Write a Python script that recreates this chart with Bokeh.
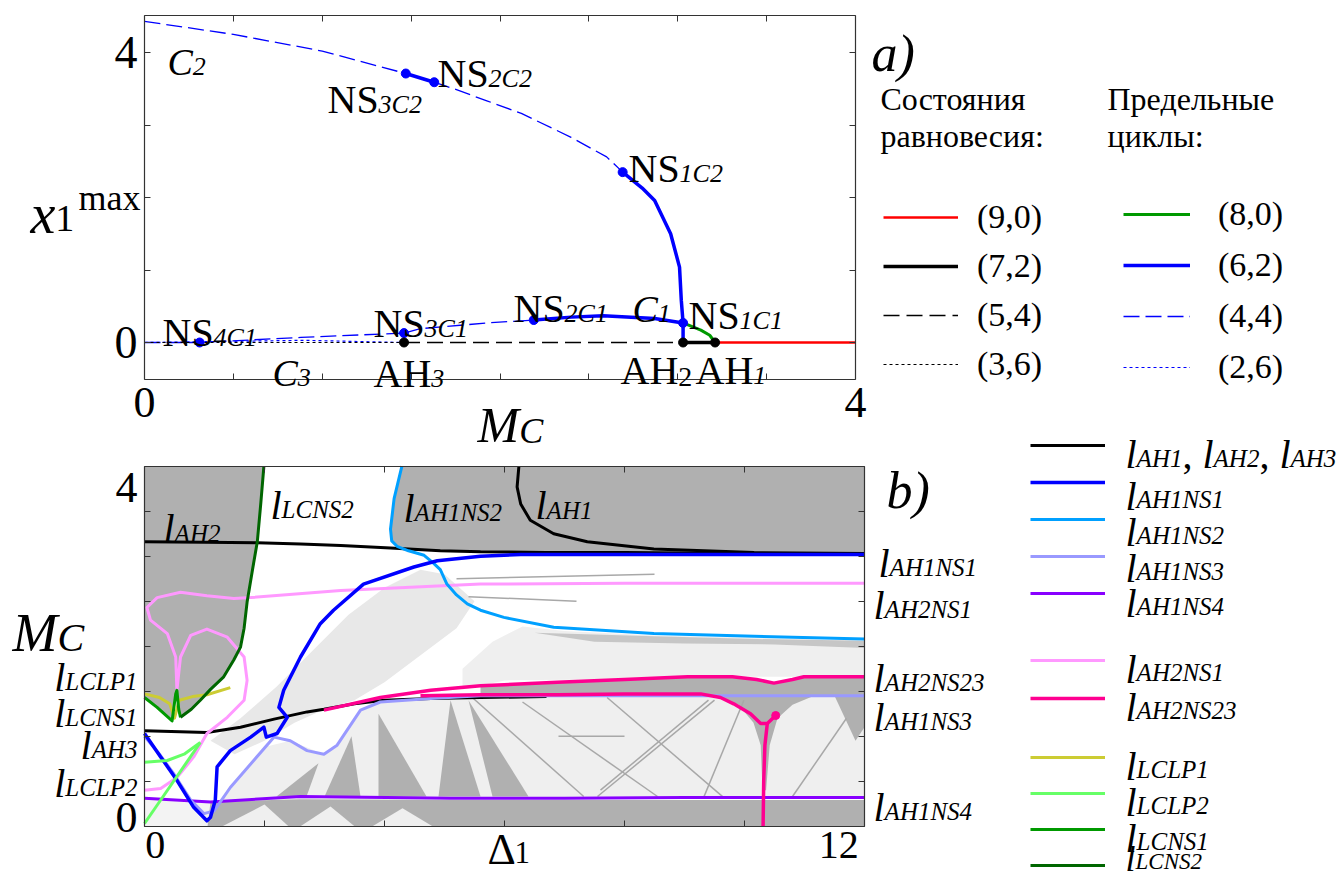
from bokeh.plotting import figure
from bokeh.models import Label, Legend, LegendItem, LinearAxis, FixedTicker, Range1d
from bokeh.embed import file_html
from bokeh.resources import INLINE

FONT = "Liberation Serif"

# ================= Panel a) data : x = M_C, y = x1max =================
a_xticks = [0.0, 0.5, 1.0, 1.5, 2.0, 2.5, 3.0, 3.5, 4.0]
a_xlabels = {0.0: "0", 4.0: "4"}
a_yticks = [0.0, 1.0, 2.0, 3.0, 4.0]
a_ylabels = {0.0: "0", 4.0: "4"}

c2_dash1_x = [0.0, 0.5, 1.0, 1.47]
c2_dash1_y = [4.43, 4.25, 4.02, 3.71]
c2_solid1_x = [1.47, 1.63]
c2_solid1_y = [3.71, 3.59]
c2_dash2_x = [1.63, 1.74, 1.93, 2.12, 2.40, 2.60, 2.69]
c2_dash2_y = [3.59, 3.50, 3.33, 3.16, 2.83, 2.56, 2.35]
c2_solid2_x = [2.69, 2.80, 2.87, 2.96, 3.01, 3.02, 3.03, 3.03]
c2_solid2_y = [2.35, 2.13, 1.96, 1.50, 1.04, 0.58, 0.27, 0.0]

c1_dash1_x = [0.0, 0.31, 0.88, 1.46]
c1_dash1_y = [0.0, 0.0, 0.07, 0.13]
c1_dash2_x = [1.46, 1.55, 1.93, 2.19]
c1_dash2_y = [0.13, 0.19, 0.27, 0.31]
c1_solid_x = [2.19, 2.40, 2.58, 2.87, 3.03]
c1_solid_y = [0.31, 0.35, 0.37, 0.33, 0.27]
c3_x = [0.0, 0.31, 0.90, 1.46]
c3_y = [0.0, 0.01, 0.03, 0.0]
lc80_x = [3.03, 3.13, 3.18, 3.21]
lc80_y = [0.27, 0.17, 0.10, 0.0]

eq36_x = [0.0, 1.46]
eq54_x = [1.46, 3.03]
eq72_x = [3.03, 3.21]
eq90_x = [3.21, 4.0]
eq_y = [0.0, 0.0]

ns_x = [0.31, 1.46, 2.19, 3.03, 2.69, 1.63, 1.47]
ns_y = [0.0, 0.13, 0.31, 0.27, 2.35, 3.59, 3.71]
ah_x = [1.46, 3.03, 3.21]
ah_y = [0.0, 0.0, 0.0]

# ================= Panel b) data : x = Delta1, y = M_C =================
b_xticks = [0, 2, 4, 6, 8, 10, 12]
b_xlabel_pos = [0.18, 11.57]
b_xlabels = {0.18: "0", 11.57: "12"}
b_yticks = [0.0, 0.5, 1.0, 1.5, 2.0, 2.5, 3.0, 3.5, 4.0]
b_ylabel_pos = [0.1, 3.76]
b_ylabels = {0.1: "0", 3.76: "4"}

ah2_x = [0.0, 1.0, 1.88, 2.6, 3.27, 4.1, 4.93, 5.6, 6.7, 8.0, 10.0, 12.0]
ah2_y = [3.16, 3.155, 3.15, 3.135, 3.12, 3.09, 3.06, 3.05, 3.04, 3.04, 3.03, 3.03]
ah1_x = [6.24, 6.21, 6.27, 6.43, 6.82, 7.38, 8.49, 10.16, 12.0]
ah1_y = [4.0, 3.77, 3.58, 3.40, 3.25, 3.16, 3.08, 3.04, 3.03]
ah3_x = [0.0, 1.04, 1.6, 2.16, 2.71, 2.99, 3.5, 4.0, 4.77, 5.6, 6.7]
ah3_y = [1.06, 1.04, 1.10, 1.19, 1.27, 1.30, 1.36, 1.40, 1.42, 1.43, 1.44]

ns1_x = [0.0, 0.27, 0.54, 0.82, 1.04, 1.10, 1.18, 1.21, 1.43, 1.77, 1.99, 2.03, 2.21, 2.38,
         2.24, 2.32, 2.60, 2.93, 3.15, 3.65, 4.49, 4.88, 5.6, 6.27, 8.0, 10.0, 12.0]
ns1_y = [1.03, 0.77, 0.51, 0.21, 0.06, 0.10, 0.29, 0.66, 0.84, 0.99, 1.10, 0.99, 1.03, 1.21,
         1.32, 1.51, 1.88, 2.25, 2.40, 2.69, 2.88, 2.95, 3.0, 3.02, 3.02, 3.02, 3.02]
ns2_x = [4.29, 4.16, 4.10, 4.12, 4.21, 4.40, 4.66, 4.82, 4.93, 5.04, 5.20, 5.38, 5.6, 5.99,
         6.82, 8.49, 10.16, 12.0]
ns2_y = [4.0, 3.64, 3.30, 3.17, 3.11, 3.06, 3.01, 2.92, 2.85, 2.69, 2.57, 2.47, 2.40, 2.32,
         2.21, 2.14, 2.11, 2.08]
ns3_x = [0.0, 0.25, 0.49, 0.77, 0.99, 1.16, 1.43, 1.82, 2.16, 2.43, 2.71, 2.99, 3.21, 3.6,
         3.93, 4.77, 5.6, 8.0, 9.77, 12.0]
ns3_y = [1.0, 0.80, 0.58, 0.29, 0.14, 0.17, 0.43, 0.73, 0.99, 0.95, 0.84, 0.80, 0.90, 1.29,
         1.38, 1.42, 1.45, 1.45, 1.45, 1.45]
ns4_x = [0.0, 1.1, 2.6, 5.1, 7.0, 9.0, 12.0]
ns4_y = [0.31, 0.27, 0.33, 0.31, 0.31, 0.32, 0.32]
ah2ns1_x = [0.0, 0.27, 0.54, 0.82, 1.04, 1.38, 1.66, 1.71, 1.66, 1.38, 1.04, 0.77, 0.60, 0.54,
            0.52, 0.38, 0.10, 0.04, 0.21, 0.60, 1.04, 1.49, 1.77, 3.27, 5.6, 8.0, 12.0]
ah2ns1_y = [0.40, 0.42, 0.54, 0.77, 1.03, 1.21, 1.40, 1.62, 1.88, 2.10, 2.19, 2.12, 1.88, 1.51,
            1.88, 2.14, 2.29, 2.43, 2.54, 2.60, 2.56, 2.53, 2.54, 2.62, 2.69, 2.70, 2.70]
ah2ns23a_x = [2.99, 3.93, 4.77, 5.6, 6.88, 8.0, 9.05, 9.8, 10.2, 10.49, 10.8, 10.99, 12.0]
ah2ns23a_y = [1.29, 1.43, 1.51, 1.56, 1.60, 1.63, 1.66, 1.66, 1.63, 1.59, 1.63, 1.66, 1.66]
ah2ns23b_x = [4.6, 5.6, 6.88, 8.0, 9.27, 9.6, 9.82, 10.1, 10.27, 10.38, 10.52]
ah2ns23b_y = [1.45, 1.46, 1.46, 1.47, 1.47, 1.43, 1.36, 1.25, 1.14, 1.14, 1.23]
ah2ns23c_x = [10.38, 10.34, 10.32, 10.31]
ah2ns23c_y = [1.14, 0.90, 0.50, 0.0]
lclp1_x = [0.0, 0.25, 0.42, 0.50, 0.58, 0.80, 1.04, 1.43]
lclp1_y = [1.47, 1.43, 1.36, 1.20, 1.40, 1.44, 1.46, 1.54]
lclp2a_x = [0.0, 0.93]
lclp2a_y = [0.03, 0.93]
lclp2b_x = [0.0, 0.38, 0.66, 0.93]
lclp2b_y = [0.71, 0.73, 0.80, 0.93]
lcns1_x = [0.0, 0.21, 0.46, 0.52, 0.54, 0.57, 0.60]
lcns1_y = [1.43, 1.32, 1.17, 1.47, 1.51, 1.30, 1.21]
lcns2_x = [0.60, 0.78, 0.93, 1.10, 1.32, 1.49, 1.60, 1.66, 1.71, 1.80, 1.88, 1.94, 1.99]
lcns2_y = [1.21, 1.30, 1.40, 1.52, 1.66, 1.85, 1.99, 2.20, 2.49, 2.85, 3.16, 3.60, 4.0]

# shaded regions (regime map) of panel b
light_main_x = [1.3, 2.0, 2.43, 2.99, 3.21, 3.6, 3.93, 4.77, 5.6, 12.0, 12.0, 1.3]
light_main_y = [0.30, 0.88, 0.95, 0.80, 0.88, 1.29, 1.38, 1.42, 1.45, 1.45, 0.31, 0.29]
light_band_x = [5.3, 6.0, 7.5, 9.0, 12.0, 12.0, 10.2, 8.5, 7.0, 6.3, 5.8, 5.3]
light_band_y = [1.52, 1.62, 1.63, 1.66, 1.66, 2.06, 2.09, 2.12, 2.17, 2.22, 2.05, 1.75]
speckle_x = [1.1, 1.6, 2.2, 2.8, 3.4, 4.0, 4.6, 5.0, 5.5, 5.2, 4.6, 4.0, 3.5, 3.0, 2.5, 2.0, 1.5]
speckle_y = [0.95, 1.2, 1.55, 1.95, 2.35, 2.65, 2.85, 2.80, 2.50, 2.20, 1.90, 1.60, 1.40, 1.30, 1.15, 0.95, 0.80]
streak_x = [6.5, 8.5, 10.2, 12.0, 12.0, 10.5, 9.0, 7.5]
streak_y = [2.15, 2.11, 2.08, 2.06, 1.98, 2.02, 2.03, 2.05]
band_x = [5.6, 6.88, 8.0, 9.05, 9.8, 10.2, 10.49, 10.8, 10.99, 12.0, 12.0, 9.3, 5.6]
band_y = [1.56, 1.60, 1.63, 1.66, 1.66, 1.63, 1.59, 1.63, 1.66, 1.66, 1.45, 1.46, 1.45]
funnel_x = [9.5, 11.2, 10.8, 10.55, 10.42, 10.36, 10.30, 10.27, 10.15, 9.9]
funnel_y = [1.46, 1.46, 1.35, 1.20, 0.90, 0.40, 0.40, 0.90, 1.15, 1.35]
bottom_band_x = [1.05, 12.0, 12.0, 9.0, 5.0, 2.6, 1.1]
bottom_band_y = [0.0, 0.0, 0.29, 0.29, 0.29, 0.30, 0.27]
corner_x = [0.0, 1.05, 1.1, 0.0]
corner_y = [0.0, 0.0, 0.27, 0.31]
wedges_x = [[3.0, 3.6, 3.45], [3.9, 4.7, 3.9], [4.9, 5.6, 5.1], [2.2, 2.7, 2.9],
            [5.8, 6.4, 5.4], [11.5, 12.0, 12.0, 11.85]]
wedges_y = [[0.33, 0.33, 1.0], [0.33, 0.33, 1.25], [0.33, 0.33, 1.40], [0.33, 0.33, 0.70],
            [0.33, 0.33, 1.40], [1.45, 1.45, 1.10, 0.95]]
holes_x = [[1.3, 2.0, 2.4], [2.6, 3.1, 3.5], [3.8, 4.3, 4.8]]
holes_y = [[0.0, 0.24, 0.0], [0.0, 0.22, 0.0], [0.0, 0.20, 0.0]]
diag_x = [[5.43, 7.32], [6.3, 8.55], [7.55, 9.5], [7.71, 9.65], [7.6, 9.4], [9.32, 9.99],
          [6.9, 8.0], [10.8, 11.7], [5.2, 8.5], [5.4, 7.2]]
diag_y = [[1.45, 0.33], [1.38, 0.33], [0.33, 1.40], [1.43, 0.32], [0.40, 1.40], [0.32, 1.40],
          [1.0, 1.0], [0.33, 1.2], [2.75, 2.80], [2.55, 2.50]]

# ================= figure: one canvas = whole page, frame = whole canvas =================
# page pixels: panel a box x 144..855, y 15..379 ; panel b box x 144..864, y 465.7..825.7
W, H = 1338, 882
p = figure(width=W, height=H,
           x_range=Range1d(-144 / 177.75, (W - 144) / 177.75),
           y_range=Range1d((342 - H) / 72.5, 342 / 72.5),
           x_axis_type=None, y_axis_type=None, min_border=0,
           output_backend="svg", toolbar_location=None)
p.extra_x_ranges = {"bx": Range1d(-144 / 60.0, (W - 144) / 60.0), "px": Range1d(0, W)}
p.extra_y_ranges = {"by": Range1d((825.7 - H) / 90.0, 825.7 / 90.0), "py": Range1d(H, 0)}
p.outline_line_color = None
p.background_fill_color = "white"
p.border_fill_color = "white"

AX = "#333333"


def add_axis(side, loc, bounds, ticks, labels, fs=1, standoff=0, xr="default", yr="default",
             tick_in=6, line=True):
    ax = LinearAxis(fixed_location=loc, bounds=bounds, x_range_name=xr, y_range_name=yr,
                    ticker=FixedTicker(ticks=ticks, minor_ticks=[]),
                    major_label_overrides={t: labels.get(t, "") for t in ticks},
                    major_label_text_font=FONT, major_label_text_font_size=f"{fs}px",
                    major_label_text_color="black", major_label_standoff=standoff,
                    major_tick_in=tick_in, major_tick_out=0,
                    major_tick_line_color=AX if tick_in > 0 else None,
                    minor_tick_line_color=None,
                    axis_line_color=AX if line else None, axis_line_width=1.2,
                    axis_label=None)
    p.add_layout(ax, side)


# panel a axes (box edges with inward ticks)
add_axis("below", -0.51, (0, 4), a_xticks, a_xlabels, 44, 9)
add_axis("left", 0.0, (-0.51, 4.51), a_yticks, a_ylabels, 46, 7)
add_axis("above", 4.51, (0, 4), a_xticks, {})
add_axis("right", 4.0, (-0.51, 4.51), a_yticks, {})
# panel b axes
add_axis("below", 0.0, (0, 12), b_xticks, {}, xr="bx", yr="by")
add_axis("left", 0.0, (0, 4), b_yticks, {}, xr="bx", yr="by")
add_axis("above", 4.0, (0, 12), b_xticks, {}, xr="bx", yr="by")
add_axis("right", 12.0, (0, 4), b_yticks, {}, xr="bx", yr="by")
add_axis("below", 0.0, (0, 12), b_xlabel_pos, b_xlabels, 40, 6, xr="bx", yr="by",
         tick_in=0, line=False)
add_axis("left", 0.0, (0, 4), b_ylabel_pos, b_ylabels, 44, 7, xr="bx", yr="by",
         tick_in=0, line=False)

# ---------------- panel a marks ----------------
BLUE = "#0000ff"
DASH = "16 6"
r44 = p.line(c2_dash1_x, c2_dash1_y, line_color=BLUE, line_width=1.3, line_dash=DASH)
p.line(c2_dash2_x, c2_dash2_y, line_color=BLUE, line_width=1.3, line_dash=DASH)
p.line(c1_dash1_x, c1_dash1_y, line_color=BLUE, line_width=1.3, line_dash=DASH)
p.line(c1_dash2_x, c1_dash2_y, line_color=BLUE, line_width=1.3, line_dash=DASH)
r26 = p.line(c3_x, c3_y, line_color=BLUE, line_width=1.2, line_dash="3 3")
r36 = p.line(eq36_x, eq_y, line_color="black", line_width=1.2, line_dash="3 3")
r54 = p.line(eq54_x, eq_y, line_color="black", line_width=1.3, line_dash="16 7")
r72 = p.line(eq72_x, eq_y, line_color="black", line_width=3.5)
r90 = p.line(eq90_x, eq_y, line_color="#ff0000", line_width=2.5)
r62 = p.line(c2_solid2_x, c2_solid2_y, line_color=BLUE, line_width=3.5, line_join="round")
p.line(c2_solid1_x, c2_solid1_y, line_color=BLUE, line_width=3.5)
p.line(c1_solid_x, c1_solid_y, line_color=BLUE, line_width=3.5, line_join="round")
r80 = p.line(lc80_x, lc80_y, line_color="#009900", line_width=3, line_join="round")
p.scatter(ns_x, ns_y, size=9, color=BLUE)
p.scatter(ah_x, ah_y, size=9, color="black")

# ---------------- panel b marks ----------------
B = dict(x_range_name="bx", y_range_name="by")
DARK = "#b0b0b0"
LIGHT = "#efefef"
p.patch(corner_x, corner_y, fill_color="#f3f3f3", line_color=None, **B)
p.patch(light_main_x, light_main_y, fill_color=LIGHT, line_color=None, **B)
p.patch(speckle_x, speckle_y, fill_color="#e8e8e8", line_color=None, **B)
p.patch(light_band_x, light_band_y, fill_color=LIGHT, line_color=None, **B)
p.patch(streak_x, streak_y, fill_color="#c6c6c6", line_color=None, **B)
p.patch(band_x, band_y, fill_color=DARK, line_color=None, **B)
p.patch(funnel_x, funnel_y, fill_color=DARK, line_color=None, **B)
p.patch(bottom_band_x, bottom_band_y, fill_color=DARK, line_color=None, **B)
p.patches(wedges_x, wedges_y, fill_color=DARK, line_color=None, **B)
p.patches(holes_x, holes_y, fill_color=LIGHT, line_color=None, **B)
p.multi_line(diag_x, diag_y, line_color="#a8a8a8", line_width=1.5, **B)
tl_x = [0.0, 0.0] + lcns1_x + lcns2_x
tl_y = [4.0, 1.43] + lcns1_y + lcns2_y
p.patch(tl_x, tl_y, fill_color=DARK, line_color=None, **B)
tr_x = ns2_x[:6] + [x for x in ah2_x if x > 4.4] + [12.0]
tr_y = ns2_y[:6] + [y for x, y in zip(ah2_x, ah2_y) if x > 4.4] + [4.0]
p.patch(tr_x, tr_y, fill_color=DARK, line_color=None, **B)

LW = 3
k_ah2 = p.line(ah2_x, ah2_y, line_color="black", line_width=LW, **B)
p.line(ah1_x, ah1_y, line_color="black", line_width=LW, **B)
p.line(ah3_x, ah3_y, line_color="black", line_width=LW, **B)
k_ns4 = p.line(ns4_x, ns4_y, line_color="#8800ff", line_width=LW, **B)
k_ns3 = p.line(ns3_x, ns3_y, line_color="#9999ff", line_width=LW, line_join="round", **B)
k_ah2ns1 = p.line(ah2ns1_x, ah2ns1_y, line_color="#ff99ff", line_width=LW, line_join="round", **B)
k_ns2 = p.line(ns2_x, ns2_y, line_color="#00a0ff", line_width=LW, line_join="round", **B)
k_ns1 = p.line(ns1_x, ns1_y, line_color="#0000ff", line_width=3.5, line_join="round", **B)
k_ah2ns23 = p.line(ah2ns23a_x, ah2ns23a_y, line_color="#ff0090", line_width=3.5,
                   line_join="round", **B)
p.line(ah2ns23b_x, ah2ns23b_y, line_color="#ff0090", line_width=3.5, line_join="round", **B)
p.line(ah2ns23c_x, ah2ns23c_y, line_color="#ff0090", line_width=3.5, line_join="round", **B)
p.scatter([ah2ns23b_x[-1]], [ah2ns23b_y[-1]], size=8, color="#ff0090", **B)
k_lclp1 = p.line(lclp1_x, lclp1_y, line_color="#cccc33", line_width=LW, line_join="round", **B)
k_lclp2 = p.line(lclp2a_x, lclp2a_y, line_color="#66ff66", line_width=LW, **B)
p.line(lclp2b_x, lclp2b_y, line_color="#66ff66", line_width=LW, **B)
k_lcns1 = p.line(lcns1_x, lcns1_y, line_color="#009900", line_width=LW, line_join="round", **B)
k_lcns2 = p.line(lcns2_x, lcns2_y, line_color="#006600", line_width=LW, line_join="round", **B)

# ---------------- legends (location = offset from canvas left / bottom) ----------------
leg_a1 = Legend(items=[LegendItem(label="(9,0)", renderers=[r90]),
                       LegendItem(label="(7,2)", renderers=[r72]),
                       LegendItem(label="(5,4)", renderers=[r54]),
                       LegendItem(label="(3,6)", renderers=[r36])],
                location=(883, H - 384), glyph_width=75, glyph_height=40, label_height=40,
                spacing=9, padding=0, margin=0, label_standoff=19,
                border_line_color=None, background_fill_alpha=0,
                label_text_font=FONT, label_text_font_size="34px", label_text_color="black")
leg_a2 = Legend(items=[LegendItem(label="(8,0)", renderers=[r80]),
                       LegendItem(label="(6,2)", renderers=[r62]),
                       LegendItem(label="(4,4)", renderers=[r44]),
                       LegendItem(label="(2,6)", renderers=[r26])],
                location=(1123, H - 387), glyph_width=67, glyph_height=40, label_height=40,
                spacing=11, padding=0, margin=0, label_standoff=28,
                border_line_color=None, background_fill_alpha=0,
                label_text_font=FONT, label_text_font_size="34px", label_text_color="black")
p.add_layout(leg_a1)
p.add_layout(leg_a2)


def blank_legend(rends, bottom, spacing):
    return Legend(items=[LegendItem(label=" ", renderers=[r]) for r in rends],
                  location=(1030, H - bottom), glyph_width=75, glyph_height=30,
                  label_height=30, spacing=spacing, padding=0, margin=0, label_standoff=0,
                  border_line_color=None, background_fill_alpha=0,
                  label_text_font_size="8px")


p.add_layout(blank_legend([k_ah2, k_ns1, k_ns2, k_ns3, k_ns4], 608, 7))
p.add_layout(blank_legend([k_ah2ns1, k_ah2ns23], 713, 8))
p.add_layout(blank_legend([k_lclp1, k_lclp2, k_lcns1, k_lcns2], 880, 6))

# ---------------- texts (placed in page-pixel coordinates) ----------------
W_REG = {"N": .722, "S": .556, "A": .722, "H": .722, "C": .667, "M": .889, "(": .333,
         ")": .333, ",": .25, " ": .25, "m": .778, "a": .444, "x": .5, "Δ": .612}
W_IT = {"l": .278, "A": .611, "H": .722, "N": .667, "S": .5, "L": .556, "C": .667,
        "P": .611, "M": .833, ",": .25, " ": .25, "x": .444, "a": .5, "b": .5, ")": .333}


def tw(s, size, italic):
    tab = W_IT if italic else W_REG
    return sum(tab.get(ch, 0.5) for ch in s) * size


def rich(x_px, y_px, parts, align_right=False):
    if align_right:
        x_px = x_px - sum(tw(t, s, i) for t, s, i, d in parts)
    x = x_px
    for text, size, italic, dy in parts:
        p.add_layout(Label(x=x, y=y_px + dy, x_range_name="px", y_range_name="py",
                           text=text, text_font=FONT, text_font_size=f"{size}px",
                           text_font_style="italic" if italic else "normal",
                           text_align="left", text_baseline="alphabetic",
                           text_color="black"))
        x += tw(text, size, italic)


NSm, NSs = 40, 26
rich(327, 99, [("NS", NSm, False, 0), ("3C2", NSs, True, 5)])
rich(437, 73, [("NS", NSm, False, 0), ("2C2", NSs, True, 5)])
rich(628, 168, [("NS", NSm, False, 0), ("1C2", NSs, True, 5)])
rich(513, 308, [("NS", NSm, False, 0), ("2C1", NSs, True, 5)])
rich(688, 315, [("NS", NSm, False, 0), ("1C1", NSs, True, 5)])
rich(373, 323, [("NS", NSm, False, 0), ("3C1", NSs, True, 5)])
rich(162, 332, [("NS", NSm, False, 0), ("4C1", NSs, True, 5)])
rich(167, 61, [("C", 38, True, 0), ("2", 26, True, 5)])
rich(632, 308, [("C", 38, True, 0), ("1", 26, True, 5)])
rich(272, 372, [("C", 38, True, 0), ("3", 26, True, 5)])
rich(373, 373, [("AH", 40, False, 0), ("3", 26, True, 5)])
rich(620, 370, [("AH", 40, False, 0), ("2", 28, False, 6)])
rich(695, 370, [("AH", 40, False, 0), ("1", 26, True, 5)])
rich(477, 424, [("M", 50, True, 0), ("C", 36, True, 6)])
rich(30, 213, [("x", 56, True, 0), ("1", 38, False, 5)])
rich(78, 197, [("max", 36, False, 0)])
rich(871, 53, [("a)", 52, True, 0)])
rich(880, 98, [("Состояния", 32, False, 0)])
rich(880, 135, [("равновесия:", 32, False, 0)])
rich(1107, 98, [("Предельные", 32, False, 0)])
rich(1107, 135, [("циклы:", 32, False, 0)])

Lm, Ls = 40, 25
leg_label_baselines = [454, 496, 532, 568, 603, 669, 707, 766, 802, 838]
leg_subs = ["AH1NS1", "AH1NS2", "AH1NS3", "AH1NS4", "AH2NS1", "AH2NS23",
            "LCLP1", "LCLP2", "LCNS1"]
rich(1125, leg_label_baselines[0],
     [("l", Lm, True, 0), ("AH1", Ls, True, 4), (", ", Lm, False, 0),
      ("l", Lm, True, 0), ("AH2", Ls, True, 4), (", ", Lm, False, 0),
      ("l", Lm, True, 0), ("AH3", Ls, True, 4)])
for yy, sub in zip(leg_label_baselines[1:], leg_subs):
    rich(1125, yy, [("l", Lm, True, 0), (sub, Ls, True, 3)])
rich(1125, 858, [("l", 36, True, 0), ("LCNS2", 23, True, 3)])

rich(878, 563, [("l", Lm, True, 0), ("AH1NS1", Ls, True, 4)])
rich(873, 605, [("l", Lm, True, 0), ("AH2NS1", Ls, True, 4)])
rich(873, 678, [("l", Lm, True, 0), ("AH2NS23", Ls, True, 4)])
rich(873, 717, [("l", Lm, True, 0), ("AH1NS3", Ls, True, 4)])
rich(873, 807, [("l", Lm, True, 0), ("AH1NS4", Ls, True, 4)])
rich(137, 677, [("l", Lm, True, 0), ("LCLP1", Ls, True, 4)], align_right=True)
rich(137, 713, [("l", Lm, True, 0), ("LCNS1", Ls, True, 4)], align_right=True)
rich(137, 745, [("l", Lm, True, 0), ("AH3", Ls, True, 4)], align_right=True)
rich(137, 783, [("l", Lm, True, 0), ("LCLP2", Ls, True, 4)], align_right=True)
rich(163, 528, [("l", Lm, True, 0), ("AH2", Ls, True, 5)])
rich(270, 505, [("l", Lm, True, 0), ("LCNS2", Ls, True, 4)])
rich(403, 508, [("l", Lm, True, 0), ("AH1NS2", Ls, True, 4)])
rich(535, 505, [("l", Lm, True, 0), ("AH1", Ls, True, 5)])
rich(12, 632, [("M", 54, True, 0), ("C", 40, True, 5)])
rich(487, 849, [("Δ", 44, False, 0), ("1", 31, False, 3)])
rich(886, 490, [("b)", 52, True, 0)])

open("out.html", "w").write(file_html(p, INLINE))
